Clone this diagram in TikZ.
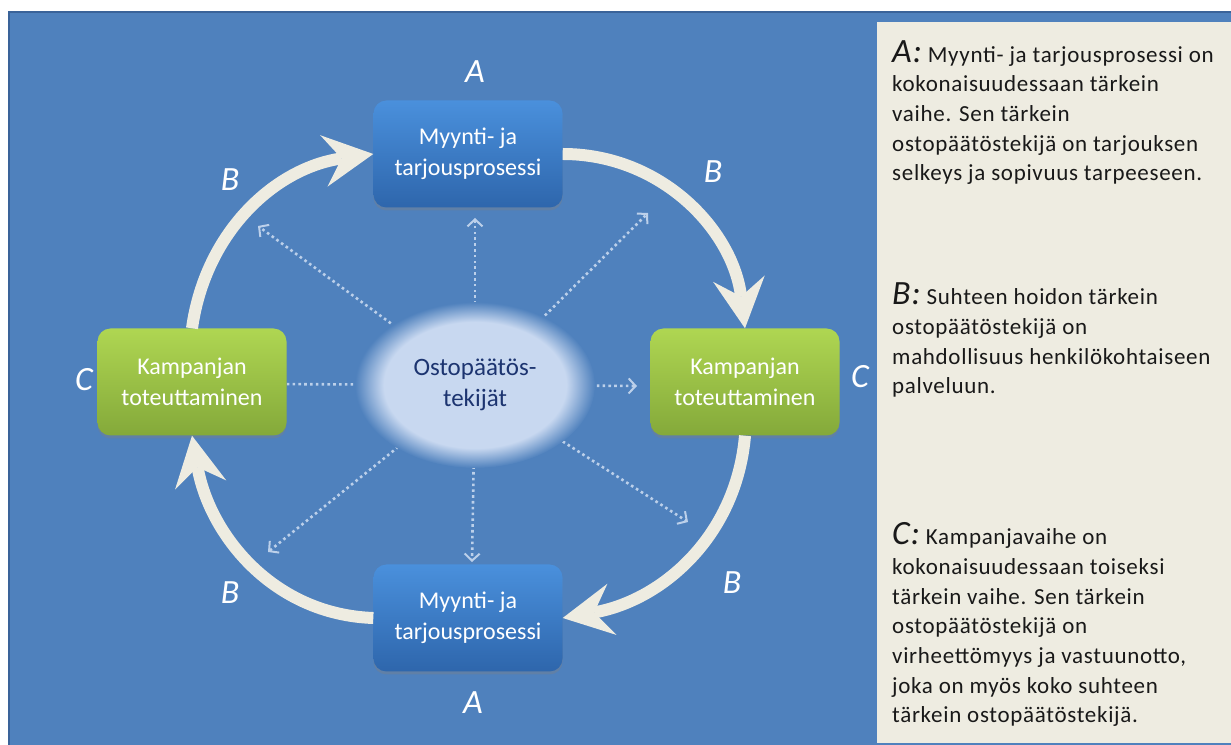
\documentclass[tikz,border=0pt]{standalone}
\usepackage{fontspec}
\setmainfont{Carlito}
\newfontfamily\notefont[LetterSpace=3.0]{Carlito}
\usetikzlibrary{arrows.meta,shapes.geometric,shadows}

\definecolor{frameblue}{HTML}{4F81BD}
\definecolor{frameedge}{HTML}{3A6399}
\definecolor{panel}{HTML}{EEECE1}
\definecolor{bluetop}{HTML}{4A90DC}
\definecolor{bluebottom}{HTML}{2E66AC}
\definecolor{greentop}{HTML}{AFD652}
\definecolor{greenbottom}{HTML}{84A93A}
\definecolor{raycol}{HTML}{BCD0EA}
\definecolor{glow}{HTML}{C8D8F0}
\definecolor{glowtext}{HTML}{1C3470}
\colorlet{note text}{black!90}

\pgfdeclareradialshading{glowblob}{\pgfpoint{0bp}{0bp}}{color(0bp)=(glow); color(19bp)=(glow); color(25bp)=(frameblue); color(50bp)=(frameblue)}

\newcommand{\notekey}[1]{{\fontsize{34}{34}\selectfont\itshape #1}}

\tikzset{
  phase/.style={rounded corners=13pt, minimum width=189pt, minimum height=107pt,
    text=white, align=center, font=\fontsize{24}{31}\selectfont,
    drop shadow={shadow xshift=0pt, shadow yshift=-3pt, opacity=0.35}},
  sales/.style={phase, top color=bluetop, bottom color=bluebottom},
  campaign/.style={phase, top color=greentop, bottom color=greenbottom},
  letter/.style={text=white, font=\fontsize{34}{34}\selectfont\itshape},
  core/.style={ellipse, shade, shading=glowblob, minimum width=240pt, minimum height=166pt,
    inner sep=0pt, align=center, text=glowtext, font=\fontsize{25}{31}\selectfont},
  note/.style={anchor=base west, align=left, inner sep=0pt, text=note text,
    font=\notefont\fontsize{23}{29.7}\selectfont}
  }
\tikzstyle{phase edge} = [draw=panel, line width=12pt, -{Stealth[length=50pt,width=52pt,inset=18pt,line width=0pt]}]
\tikzstyle{ray} = [draw=raycol, line width=2.6pt, dash pattern=on 2.6pt off 3.2pt, -{Straight Barb[length=7pt,width=15pt,line width=2pt]}]

\begin{document}
\begin{tikzpicture}[x=1pt,y=1pt]
    \useasboundingbox (0,0) rectangle (1231,744);
    \clip (0,0) rectangle (1231,744);

    % Background and the side panel
    \draw[fill=frameblue, draw=frameedge, line width=2.5pt] (9,-10) rectangle (1245,732);
    \fill[panel] (877,1) rectangle (1240,722);

    % The dotted rays from the centre
    \coordinate (mid) at (475,359);
    \foreach \x/\y/\name in {475/526/n, 648/531/ne, 637/358/e, 688/222/se, 472/182/s, 268/192/sw, 258/360/w, 258/518/nw} {
      \coordinate (\name) at (\x,\y);
    }
    \foreach \sink in {n, ne, e, se, s, sw, w, nw} {
      \path[ray] (mid) -- (\sink);
    }

    \node[core] (core) at (mid) {Ostopäätös-\\tekijät};

    % The four phases
    \foreach \pos/\name in {{(468,590)/salesup}, {(468,126)/salesdown}} {
      \node[sales] (\name) at \pos {Myynti- ja\\tarjousprosessi};
    }
    \foreach \pos/\name in {{(192,362)/campleft}, {(745,362)/campright}} {
      \node[campaign] (\name) at \pos {Kampanjan\\toteuttaminen};
    }

    % The cycle between them
    \path[phase edge] (campleft.north) to[out=82, in=188] (salesup.west);
    \path[phase edge] (salesup.east) to[out=0, in=97] (campright.north);
    \path[phase edge] (campright.south) to[out=-95, in=10] (salesdown.east);
    \path[phase edge] (salesdown.west) to[out=178, in=-80] (campleft.south);

    % The letters round the cycle
    \foreach \pos/\name/\txt in {{(475,672)/atop/A}, {(473,41)/abottom/A}, {(230,564)/btl/B}, {(713,572)/btr/B}, {(732,161)/bbr/B}, {(230,151)/bbl/B}, {(84,364)/cleft/C}, {(860,367)/cright/C}} {
      \node[letter] (\name) at \pos {\txt};
    }

    % The explanations on the right (anchored at the last line)
    \node[note] (notea) at (892,563) {\notekey{A:} Myynti- ja tarjousprosessi on\\kokonaisuudessaan tärkein\\vaihe. Sen tärkein\\ostopäätöstekijä on tarjouksen\\selkeys ja sopivuus tarpeeseen.};
    \node[note] (noteb) at (892,350) {\notekey{B:} Suhteen hoidon tärkein\\ostopäätöstekijä on\\mahdollisuus henkilökohtaiseen\\palveluun.};
    \node[note] (notec) at (892,21) {\notekey{C:} Kampanjavaihe on\\kokonaisuudessaan toiseksi\\tärkein vaihe. Sen tärkein\\ostopäätöstekijä on\\virheettömyys ja vastuunotto,\\joka on myös koko suhteen\\tärkein ostopäätöstekijä.};

\end{tikzpicture}
\end{document}
